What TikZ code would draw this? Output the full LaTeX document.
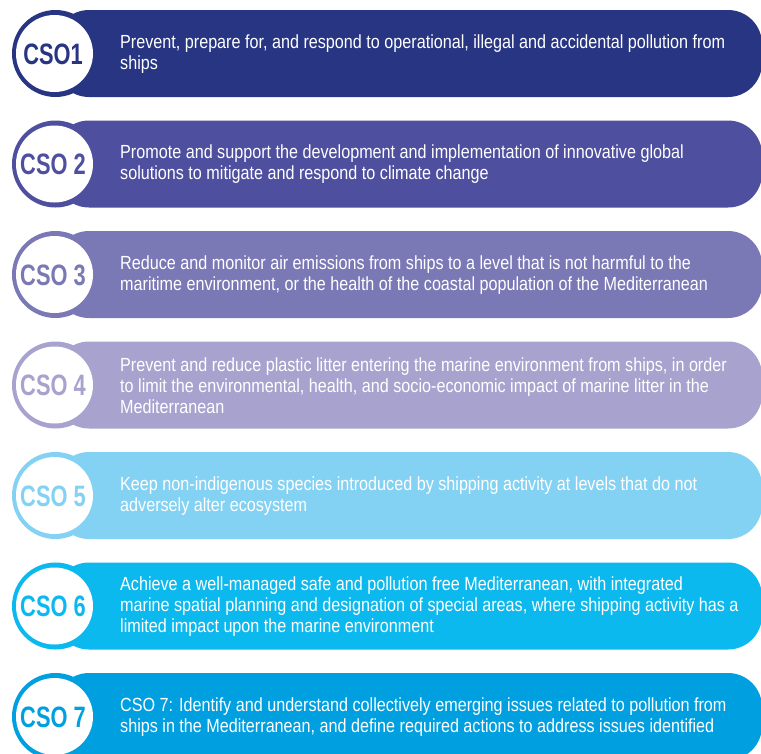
\documentclass[tikz,border=0pt]{standalone}
\usepackage{fontspec}
\setmainfont{Liberation Sans}[FakeStretch=0.851]
\newfontfamily\lblfont{Liberation Sans}[FakeStretch=0.74]
\definecolor{c1}{HTML}{283583}
\definecolor{c2}{HTML}{4F4F9F}
\definecolor{c3}{HTML}{7B78B6}
\definecolor{c4}{HTML}{A7A3CE}
\definecolor{c5}{HTML}{84D2F3}
\definecolor{c6}{HTML}{0CB9EE}
\definecolor{c7}{HTML}{00A0E0}
\tikzset{
  barbody/.style={fill=#1, draw=none, rounded corners=34pt},
  ringdisc/.style={circle, fill=#1, draw=none, minimum size=87pt, inner sep=0pt},
  whitedisc/.style={circle, fill=white, draw=none, minimum size=77pt, inner sep=0pt},
  lbl/.style={text=#1, font=\lblfont\bfseries\fontsize{29.5}{30}\selectfont, inner sep=0pt},
  txt/.style={text=white, anchor=west, align=left, inner sep=0pt,
    font=\fontsize{19}{21}\selectfont}
}
\begin{document}
\begin{tikzpicture}[x=1pt,y=-1pt]
\useasboundingbox (0,0) rectangle (761,753);
\clip (0,0) rectangle (761,753);
% row 1
\fill[barbody=c1] (55,10) rectangle (762,97);
\node[ringdisc=c1] (r1) at (55.5,53.5) {};
\node[whitedisc] (w1) at (54.5,53.5) {};
\node[lbl=c1] (l1) at (53,54) {CSO1};
\node[txt] (t1) at (120,54) {Prevent, prepare for, and respond to operational, illegal and accidental pollution from\\ships};
% row 2
\fill[barbody=c2] (55,120.5) rectangle (762,207.5);
\node[ringdisc=c2] (r2) at (55.5,164) {};
\node[whitedisc] (w2) at (54.5,164) {};
\node[lbl=c2] (l2) at (53,164.5) {CSO 2};
\node[txt] (t2) at (120,164.5) {Promote and support the development and implementation of innovative global\\solutions to mitigate and respond to climate change};
% row 3
\fill[barbody=c3] (55,231) rectangle (762,318);
\node[ringdisc=c3] (r3) at (55.5,274.5) {};
\node[whitedisc] (w3) at (54.5,274.5) {};
\node[lbl=c3] (l3) at (53,275) {CSO 3};
\node[txt] (t3) at (120,275) {Reduce and monitor air emissions from ships to a level that is not harmful to the\\maritime environment, or the health of the coastal population of the Mediterranean};
% row 4
\fill[barbody=c4] (55,341.5) rectangle (762,428.5);
\node[ringdisc=c4] (r4) at (55.5,385) {};
\node[whitedisc] (w4) at (54.5,385) {};
\node[lbl=c4] (l4) at (53,385.5) {CSO 4};
\node[txt] (t4) at (120,385.5) {Prevent and reduce plastic litter entering the marine environment from ships, in order\\to limit the environmental, health, and socio-economic impact of marine litter in the\\Mediterranean};
% row 5
\fill[barbody=c5] (55,452) rectangle (762,539);
\node[ringdisc=c5] (r5) at (55.5,495.5) {};
\node[whitedisc] (w5) at (54.5,495.5) {};
\node[lbl=c5] (l5) at (53,496) {CSO 5};
\node[txt] (t5) at (120,496) {Keep non-indigenous species introduced by shipping activity at levels that do not\\adversely alter ecosystem};
% row 6
\fill[barbody=c6] (55,562.5) rectangle (762,649.5);
\node[ringdisc=c6] (r6) at (55.5,606) {};
\node[whitedisc] (w6) at (54.5,606) {};
\node[lbl=c6] (l6) at (53,606.5) {CSO 6};
\node[txt] (t6) at (120,606.5) {Achieve a well-managed safe and pollution free Mediterranean, with integrated\\marine spatial planning and designation of special areas, where shipping activity has a\\limited impact upon the marine environment};
% row 7
\fill[barbody=c7] (55,673) rectangle (762,760);
\node[ringdisc=c7] (r7) at (55.5,716.5) {};
\node[whitedisc] (w7) at (54.5,716.5) {};
\node[lbl=c7] (l7) at (53,717) {CSO 7};
\node[txt] (t7) at (120,717) {CSO 7: Identify and understand collectively emerging issues related to pollution from\\ships in the Mediterranean, and define required actions to address issues identified};
\end{tikzpicture}
\end{document}
